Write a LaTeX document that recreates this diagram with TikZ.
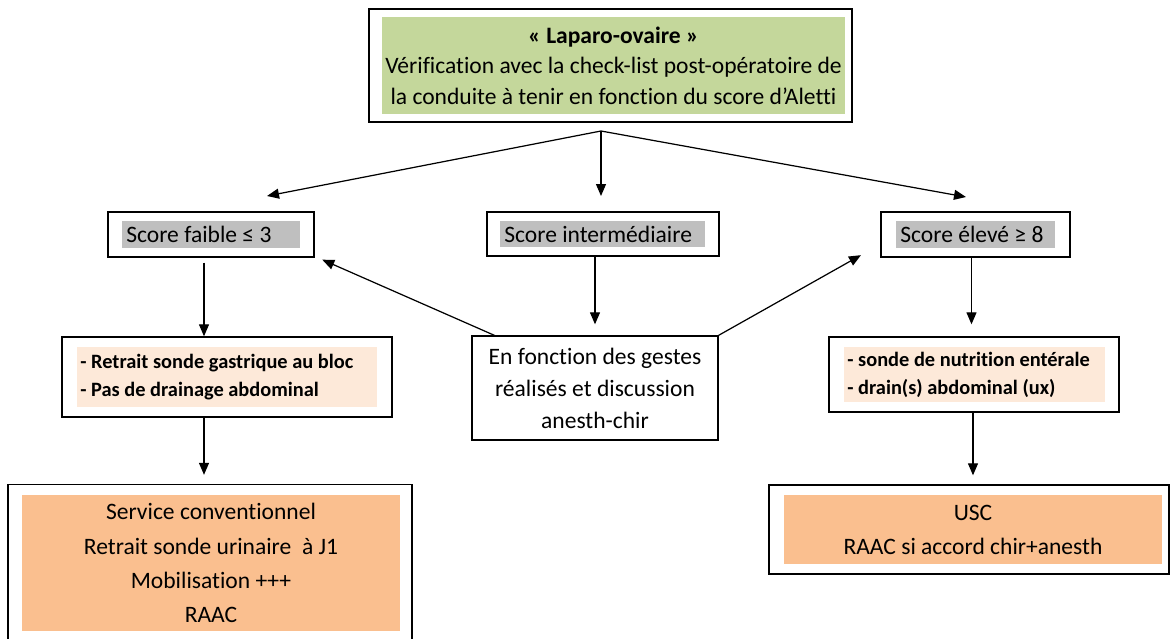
\documentclass[tikz,border=0pt]{standalone}
\usepackage{fontspec}
\setmainfont{Carlito}[Ligatures = NoCommon]
\usepackage{tikz}
\usetikzlibrary{arrows.meta}
\usetikzlibrary{positioning}
\definecolor{olivelight}{HTML}{C4D79B}
\definecolor{greyhl}{HTML}{BFBFBF}
\definecolor{peachlight}{HTML}{FDE9D9}
\definecolor{orangelight}{HTML}{FABF8F}
\tikzset{frame/.style = {draw, line width = 0.8pt, inner sep = 0, align = center}}
\tikzset{hl/.style = {fill = greyhl, anchor = west, inner xsep = 0.08cm, inner ysep = 0, minimum height = 0.54cm, align = flush left}}
\tikzset{boxfill/.style = {inner sep = 0, align = center}}
\tikzset{arr/.style = {-{Triangle[length = 2.4mm, width = 2mm]}, line width = 0.7pt}}
\tikzset{txt/.style = {font = \fontsize{13.4}{17.3}\selectfont}}
\tikzset{bold/.style = {font = \fontsize{11.6}{16}\selectfont\bfseries}}

\begin{document}
\begin{tikzpicture}[x = 0.02cm, y = -0.02cm]
    \useasboundingbox (0, 0) rectangle (1170, 639);

    \node [frame, minimum width = 9.66cm, minimum height = 2.26cm] (top) at (610.5, 65.5) {};
    \node [boxfill, txt, fill = olivelight, minimum width = 9.26cm, minimum height = 1.94cm] (topfill) at (613.5, 65.5)
      {\textbf{« Laparo-ovaire »}\\Vérification avec la check-list post-opératoire de\\la conduite à tenir en fonction du score d’Aletti};

    \node [frame, minimum width = 4.12cm, minimum height = 0.9cm] (faible) at (211, 234.5) {};
    \node [hl, txt, text width = 3.4cm] (faiblehl) at (122, 234.5) {Score faible ≤ 3};

    \node [frame, minimum width = 4.64cm, minimum height = 0.88cm] (inter) at (603, 234) {};
    \node [hl, txt, text width = 3.94cm] (interhl) at (500, 234) {Score intermédiaire};

    \node [frame, minimum width = 3.78cm, minimum height = 0.9cm] (eleve) at (975.5, 234.5) {};
    \node [hl, txt, text width = 3.02cm] (elevehl) at (896, 234.5) {Score élevé ≥ 8};

    \node [frame, minimum width = 6.6cm, minimum height = 1.6cm] (retrait) at (227, 377) {};
    \node [boxfill, bold, fill = peachlight, anchor = west, inner xsep = 0.06cm, text width = 5.88cm, minimum height = 1.2cm,
      align = flush left] (retraitfill) at (77, 377)
      {- Retrait sonde gastrique au bloc\\- Pas de drainage abdominal};

    \node [frame, minimum width = 4.92cm, minimum height = 2.08cm, font = \fontsize{13.4}{18.2}\selectfont] (fonction) at (595, 388)
      {En fonction des gestes\\réalisés et discussion\\anesth-chir};

    \node [frame, minimum width = 5.8cm, minimum height = 1.5cm] (sonde) at (974, 374.5) {};
    \node [boxfill, bold, fill = peachlight, anchor = west, inner xsep = 0.06cm, text width = 5.1cm, minimum height = 1.1cm,
      align = flush left] (sondefill) at (844, 374.5)
      {- sonde de nutrition entérale\\- drain(s) abdominal (ux)};

    \node [frame, minimum width = 8.08cm, minimum height = 3.3cm] (service) at (210, 567) {};
    \node [boxfill, fill = orangelight, minimum width = 7.56cm, minimum height = 2.72cm, font = \fontsize{13.4}{19.4}\selectfont] (servicefill) at (211, 563)
      {Service conventionnel\\Retrait sonde urinaire \ à J1\\Mobilisation +++\\RAAC};

    \node [frame, minimum width = 8.0cm, minimum height = 1.78cm] (usc) at (969, 529.5) {};
    \node [boxfill, fill = orangelight, minimum width = 7.56cm, minimum height = 1.38cm, font = \fontsize{13.4}{19.4}\selectfont] (uscfill) at (973, 529.5)
      {USC\\RAAC si accord chir+anesth};

    \coordinate (split) at (601, 131);
    \coordinate (faibletip) at (267, 196);
    \coordinate (intertip) at (601, 196);
    \coordinate (elevetip) at (966, 197);

    \draw [arr] (split) -- (faibletip);
    \draw [arr] (split) -- (intertip);
    \draw [arr] (split) -- (elevetip);

    \draw [arr, shorten < = 0.1cm] ([xshift = -0.14cm]faible.south) -- ([xshift = -0.14cm]faible.south |- retrait.north);
    \draw [arr, shorten > = 0.18cm] ([xshift = -0.14cm]faible.south |- retrait.south) -- ([xshift = -0.14cm]faible.south |- service.north);

    \draw [arr, shorten > = 0.22cm] (inter.south -| fonction.north) -- (fonction.north);
    \draw [arr, shorten > = 0.1cm] ([xshift = 0.46cm]fonction.north west) -- ([xshift = 0.06cm]faible.south east);
    \draw [arr, shorten > = 0.1cm] (fonction.north east) -- ([shift = {(-0.3cm, 0.1cm)}]eleve.south west);

    \draw [arr, shorten > = 0.24cm] ([xshift = -0.08cm]eleve.south) -- ([xshift = -0.08cm]eleve.south |- sonde.north);
    \draw [arr, shorten > = 0.18cm] ([xshift = -0.02cm]sonde.south) -- ([xshift = -0.02cm]sonde.south |- usc.north);
\end{tikzpicture}
\end{document}
